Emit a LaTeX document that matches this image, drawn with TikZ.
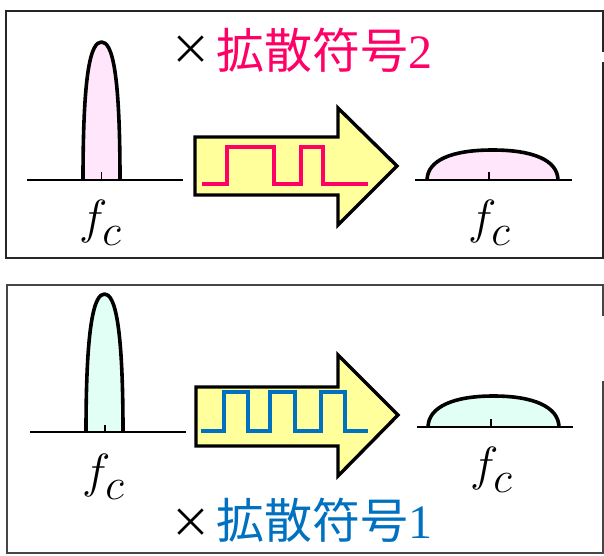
\RequirePackage{fix-cm}
\documentclass[tikz,border=0pt]{standalone}
\usepackage{fontspec}
\newfontfamily\numfont{Liberation Serif}
\newfontfamily\cjkfont{Noto Sans CJK JP}
\definecolor{pinkfill}{RGB}{255,230,250}
\definecolor{cyanfill}{RGB}{226,255,246}
\definecolor{arrowfill}{RGB}{255,255,155}
\definecolor{codepink}{RGB}{255,0,102}
\definecolor{codeblue}{RGB}{0,112,192}
\definecolor{boxgray}{RGB}{70,70,70}
\newcommand{\fclab}{$f$\kern-5pt\raisebox{-12pt}{\fontsize{44}{44}\selectfont$c$}}
\begin{document}
\begin{tikzpicture}[x=1pt,y=-1pt,
  frameline/.style={line width=1.8pt,draw=#1},
  axisline/.style={line width=2.4pt,black},
  peakline/.style={line width=3.6pt,black,line join=round},
  tickline/.style={line width=1.6pt,black},
  bigarrow/.style={line width=3.4pt,draw=black,fill=arrowfill,line join=miter},
  wave/.style={line width=3.4pt,draw=#1,line join=miter,line cap=butt},
  crosslabel/.style={inner sep=0pt,anchor=base west,font=\cjkfont\fontsize{41}{41}\selectfont},
  cjklabel/.style={inner sep=0pt,anchor=base west,font=\cjkfont\fontsize{48}{48}\selectfont},
  fclabel/.style={inner sep=0pt,anchor=base,font=\fontsize{48}{48}\selectfont}
]
\useasboundingbox (0,0) rectangle (604,555);
\fill[white] (0,0) rectangle (604,555);

% ---------- top panel ----------
\draw[frameline=black!85] (603,52) -- (603,11) -- (6,11) -- (6,258) -- (603,258) -- (603,62);

\node[crosslabel] (x2) at (170,64) {×};
\node[cjklabel,text=codepink] (code2) at (216,68) {拡散符号{\numfont 2}};

\filldraw[peakline,fill=pinkfill] (83,180) .. controls (83,70) and (91,42) .. (101.5,42)
  .. controls (112,42) and (120,70) .. (120,180);
\draw[axisline] (27,180) -- (183,180);
\draw[tickline] (101.5,172) -- (101.5,180);
\node[fclabel] (fc1) at (100,233) {\fclab};

\draw[bigarrow] (195,137) -- (338,137) -- (338,108) -- (397,166) -- (338,225) -- (338,195) -- (195,195) -- cycle;
\draw[wave=codepink] (202,184) -| (227,147) -| (274,184) -| (301,147) -| (323,184) -- (368,184);

\filldraw[peakline,fill=pinkfill] (427,180) .. controls (427.5,160) and (452,150) .. (492.5,150)
  .. controls (533,150) and (557.5,160) .. (558,180);
\draw[axisline] (415,180) -- (572,180);
\draw[tickline] (489,172) -- (489,180);
\node[fclabel] (fc2) at (489,233) {\fclab};

% ---------- bottom panel ----------
\draw[frameline=boxgray] (603,316) -- (603,285) -- (7,285) -- (7,553) -- (603,553) -- (603,381);

\filldraw[peakline,fill=cyanfill] (86,432) .. controls (86,322) and (94.5,294) .. (104.5,294)
  .. controls (114.5,294) and (123,322) .. (123,432);
\draw[axisline] (30,432) -- (186,432);
\draw[tickline] (105,425) -- (105,432);
\node[fclabel] (fc3) at (103,487) {\fclab};

\draw[bigarrow] (196,387) -- (338,387) -- (338,355) -- (398,415) -- (338,476) -- (338,446) -- (196,446) -- cycle;
\draw[wave=codeblue] (201,431) -| (224,392) -| (248,431) -| (270,392) -| (295,431) -| (321,392) -| (345,431) -- (368,431);

\filldraw[peakline,fill=cyanfill] (428,427) .. controls (428.5,407) and (453,396) .. (493.5,396)
  .. controls (534,396) and (558.5,407) .. (559,427);
\draw[axisline] (417,427) -- (573,427);
\draw[tickline] (491,419) -- (491,427);
\node[fclabel] (fc4) at (491,480) {\fclab};

\node[crosslabel] (x1) at (170,537.5) {×};
\node[cjklabel,text=codeblue] (code1) at (216,538) {拡散符号{\numfont 1}};
\end{tikzpicture}
\end{document}
